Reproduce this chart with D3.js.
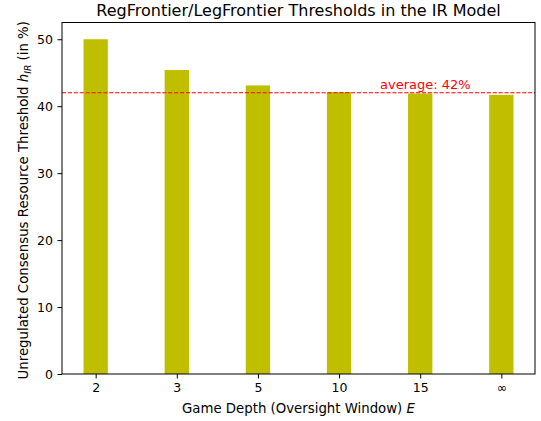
<!DOCTYPE html>
<html>
<head>
<meta charset="utf-8">
<script src="https://cdn.jsdelivr.net/npm/d3@7"></script>
<style>
  body { margin: 0; background: #fff; }
  text { font-family: "DejaVu Sans", sans-serif; }
</style>
</head>
<body>
<svg id="chart" width="541" height="421"></svg>
<script>
const depths = ['2', '3', '5', '10', '15', '\u221e'];
const thresholds = [50.0, 45.4, 43.1, 42.1, 41.9, 41.7];
const yTicks = [0, 10, 20, 30, 40, 50];
const averageValue = 42;

const margin = { top: 22.5, right: 6, bottom: 47, left: 62 };
const width = 541, height = 421;

const svg = d3.select('#chart');
const g = svg.append('g');

// band positions like matplotlib: index i, bar width 0.3, 5% margins
const x = d3.scaleLinear()
  .domain([-0.415, depths.length - 1 + 0.415])
  .range([margin.left, width - margin.right]);
const y = d3.scaleLinear()
  .domain([0, 52.5])
  .range([height - margin.bottom, margin.top]);

g.selectAll('rect.bar')
  .data(thresholds)
  .enter()
  .append('rect')
  .attr('class', 'bar')
  .attr('x', (d, i) => x(i - 0.15))
  .attr('width', x(0.15) - x(-0.15))
  .attr('y', d => y(d))
  .attr('height', d => y(0) - y(d))
  .attr('fill', '#bfbf00');

// average line
g.append('line')
  .attr('x1', x.range()[0]).attr('x2', x.range()[1])
  .attr('y1', y(averageValue)).attr('y2', y(averageValue))
  .attr('stroke', '#ff0000')
  .attr('stroke-width', 1.1)
  .attr('stroke-dasharray', '4.1,1.8');

g.append('text')
  .attr('x', 380)
  .attr('y', y(averageValue) - 3.5)
  .attr('fill', '#ff0000')
  .attr('font-size', 13)
  .text('average: ' + averageValue + '%');

// axes
const xAxis = d3.axisBottom(x)
  .tickValues(d3.range(depths.length))
  .tickFormat(i => depths[i])
  .tickSize(4.5).tickPadding(4.5);
const yAxis = d3.axisLeft(y)
  .tickValues(yTicks)
  .tickSize(4.5).tickPadding(4.5);

const xg = g.append('g')
  .attr('transform', `translate(0,${y(0)})`)
  .call(xAxis);
const yg = g.append('g')
  .attr('transform', `translate(${x.range()[0]},0)`)
  .call(yAxis);

[xg, yg].forEach(a => {
  a.select('.domain').remove();
  a.selectAll('line').attr('stroke', '#000').attr('stroke-width', 1);
  a.selectAll('text').attr('font-size', 12.5).attr('fill', '#000')
    .style('font-family', '"DejaVu Sans", sans-serif');
});

// frame
g.append('rect')
  .attr('x', x.range()[0]).attr('y', y.range()[1])
  .attr('width', x.range()[1] - x.range()[0])
  .attr('height', y.range()[0] - y.range()[1])
  .attr('fill', 'none')
  .attr('stroke', '#000')
  .attr('stroke-width', 1);

// title
svg.append('text')
  .attr('x', (x.range()[0] + x.range()[1]) / 2)
  .attr('y', 16)
  .attr('text-anchor', 'middle')
  .attr('font-size', 16)
  .text('RegFrontier/LegFrontier Thresholds in the IR Model');

// x label
const xl = svg.append('text')
  .attr('x', (x.range()[0] + x.range()[1]) / 2)
  .attr('y', 413)
  .attr('text-anchor', 'middle')
  .attr('font-size', 13.3);
xl.append('tspan').text('Game Depth (Oversight Window) ');
xl.append('tspan').attr('font-style', 'italic').text('E');

// y label
const yl = svg.append('text')
  .attr('transform', `translate(28,${(y.range()[0] + y.range()[1]) / 2 + 2}) rotate(-90)`)
  .attr('text-anchor', 'middle')
  .attr('font-size', 13.3);
yl.append('tspan').text('Unregulated Consensus Resource Threshold ');
yl.append('tspan').attr('font-style', 'italic').text('h');
yl.append('tspan').attr('font-style', 'italic').attr('font-size', 9.3).attr('dy', 3).text('IR');
yl.append('tspan').attr('dy', -3).text(' (in %)');
</script>
</body>
</html>
